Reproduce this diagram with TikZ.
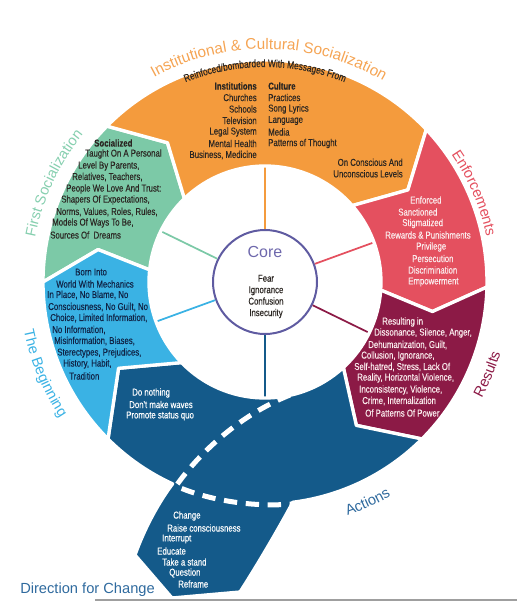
\documentclass[tikz,border=0pt]{standalone}
\usepackage{fontspec}
\setmainfont{Liberation Sans}
\newfontfamily\condfont[FakeStretch=0.78, FakeBold=0.25]{Liberation Sans}
\usepackage{tikz}
\usetikzlibrary{decorations.text}

\definecolor{instorange}{HTML}{F49B3D}
\definecolor{instlabel}{HTML}{F5A453}
\definecolor{firstgreen}{HTML}{7CC9A7}
\definecolor{firstlabel}{HTML}{86CFAF}
\definecolor{beginblue}{HTML}{3AB2E4}
\definecolor{enfred}{HTML}{E4505F}
\definecolor{resmaroon}{HTML}{8C1A46}
\definecolor{actblue}{HTML}{145A8A}
\definecolor{actlabel}{HTML}{2F6A9E}
\definecolor{corepurple}{HTML}{5F5BA1}
\definecolor{corelabel}{HTML}{6E68AC}
\definecolor{darktext}{HTML}{2B2622}
\definecolor{navytext}{HTML}{102446}
\definecolor{paletext}{HTML}{FBEDEE}

\begin{document}
\begin{tikzpicture}[
    x=0.75pt, y=0.75pt,
    body/.style={font=\condfont\fontsize{7.5}{8.6}\selectfont, inner sep=0pt},
    seg/.style={draw=white, line width=2.5pt, line join=round},
    link/.style={line width=1.3pt},
    bigtxt/.style={font=\fontsize{11}{13}\selectfont}
]
\useasboundingbox (0,0) rectangle (517,-604);

\begin{scope}[shift={(265,-282)}]
% core and the links to the ring
\node[circle, draw=corepurple, line width=1.5pt, minimum size=78pt, inner sep=0pt] (core) at (0,0) {};
\coordinate (in-inst) at (90:118);
\coordinate (in-enf) at (20:118);
\coordinate (in-res) at (-26:118);
\coordinate (in-act) at (-90:118);
\coordinate (in-beg) at (200:118);
\coordinate (in-first) at (154:118);
\draw[link, instorange] (core.90) -- (in-inst);
\draw[link, enfred] (core.20) -- (in-enf);
\draw[link, resmaroon] (core.-26) -- (in-res);
\draw[link, actblue] (core.-90) -- (in-act);
\draw[link, beginblue] (core.200) -- (in-beg);
\draw[link, firstgreen] (core.154) -- (in-first);

% ring segments
\path[fill=firstgreen, seg] (180:222) arc[start angle=180, end angle=135.4, radius=222]
  -- (125:170) -- (134:116) arc[start angle=134, end angle=174, radius=116] -- (169:170) -- cycle;
\path[fill=instorange, seg] (135.4:222) arc[start angle=135.4, end angle=43.4, radius=222]
  -- (32.8:170) -- (41.2:116) arc[start angle=41.2, end angle=134, radius=116] -- (125:170) -- cycle;
\path[fill=enfred, seg] (43.4:222) arc[start angle=43.4, end angle=-1.3, radius=222]
  -- (-10:170) -- (-4:116) arc[start angle=-4, end angle=41.2, radius=116] -- (32.8:170) -- cycle;
\path[fill=resmaroon, seg] (-1.3:222) arc[start angle=-1.3, end angle=-45, radius=222]
  -- (-57.5:170) -- (-47.5:116) arc[start angle=-47.5, end angle=-4, radius=116] -- (-10:170) -- cycle;
\path[fill=actblue, seg] (-45:222) arc[start angle=-45, end angle=-82.8, radius=222]
  .. controls (12,-250) and (-12,-290) .. (-25,-310) -- (-93,-316) -- (-130,-273)
  .. controls (-120,-245) and (-106,-220) .. (-114.6:222)
  arc[start angle=-114.6, end angle=-135, radius=222]
  -- (-149.5:170) -- (-136:116) arc[start angle=-136, end angle=-47.5, radius=116] -- (-57.5:170) -- cycle;
\path[fill=beginblue, seg] (225:222) arc[start angle=225, end angle=180, radius=222]
  -- (169:170) -- (174:116) arc[start angle=174, end angle=224, radius=116] -- (210.5:170) -- cycle;

% direction for change
\draw[white, line width=3.75pt, dash pattern=on 10pt off 6.5pt]
  (25,-113) .. controls (-25,-133) and (-65,-170) .. (-89,-204)
  .. controls (-65,-215) and (-20,-226) .. (27,-222);

% labels round the ring
\path[decorate, decoration={text along path, text align=center, text color=instlabel,
  text={|\fontsize{11.5}{13}\selectfont|Institutional {\&} Cultural Socialization}}]
  (130:233) arc[start angle=130, end angle=48, radius=233];
\path[decorate, decoration={text along path, text align=center, text color=darktext,
  text={|\condfont\fontsize{8}{9}\selectfont|Reinfoced/bombarded With Messages From}}]
  (118:215) arc[start angle=118, end angle=62, radius=215];
\path[decorate, decoration={text along path, text align=center, text color=enfred,
  text={|\fontsize{11}{13}\selectfont|Enforcements}}]
  (41:226) arc[start angle=41, end angle=5, radius=226];
\path[decorate, decoration={text along path, text align=center, text color=resmaroon,
  text={|\fontsize{11}{13}\selectfont|Results}}]
  (-40:246) arc[start angle=-40, end angle=-5, radius=246];
\path[decorate, decoration={text along path, text align=center, text color=actlabel,
  text={|\fontsize{11}{13}\selectfont|Actions}}]
  (-85:248) arc[start angle=-85, end angle=-45, radius=248];
\path[decorate, decoration={text along path, text align=center, text color=beginblue,
  text={|\fontsize{11}{13}\selectfont|The Beginning}}]
  (180:246) arc[start angle=180, end angle=225, radius=246];
\path[decorate, decoration={text along path, text align=center, text color=firstlabel,
  text={|\fontsize{11}{13}\selectfont|First Socialization}}]
  (175:234) arc[start angle=175, end angle=135, radius=234];

% core text
\node[font=\fontsize{12}{14}\selectfont, text=corelabel] (corelbl) at (0,30) {Core};
\node[body, align=center, text=darktext] (coreitems) at (1,-14.5) {Fear\\Ignorance\\Confusion\\Insecurity};
\end{scope}

% institutional & cultural
\foreach \txt [count=\i] in {{\bfseries Institutions}, Churches, Schools, Television, Legal System, Mental Health, {Business, Medicine}}
  \node[body, text=darktext, anchor=east] (inst\i) at (257,{-86-11.5*(\i-1)}) {\txt};
\foreach \txt [count=\i] in {{\bfseries Culture}, Practices, Song Lyrics, Language, Media, Patterns of Thought}
  \node[body, text=darktext, anchor=west] (cult\i) at (268,{-86-11.5*(\i-1)}) {\txt};
\node[body, text=darktext, align=right, anchor=east] (levels) at (403,-168) {On Conscious And\\Unconscious Levels};

% first socialization
\foreach \x/\y/\txt [count=\i] in {94/143/{\bfseries Socialized}, 85/154/{Taught On A Personal}, 78/166/{Level By Parents,},
    72/177/{Relatives, Teachers,}, 66/189/{People We Love And Trust:}, 61/200/{Shapers Of Expectations,},
    56/212/{Norms, Values, Roles, Rules,}, 52/223/{Models Of Ways To Be,}, 50/235/{Sources Of~~Dreams}}
  \node[body, text=darktext, anchor=west] (soc\i) at (\x,-\y) {\txt};

% the beginning
\foreach \x/\y/\txt [count=\i] in {75/272/{Born Into}, 56/284/{World With Mechanics}, 47/295/{In Place, No Blame, No},
    48/307/{Consciousness, No Guilt, No}, 50/318/{Choice, Limited Information,}, 52/330/{No Information,},
    54/341/{Misinformation, Biases,}, 57/353/{Sterectypes, Prejudices,}, 63/364/{History, Habit,}, 69/376/{Tradition}}
  \node[body, text=navytext, anchor=west] (beg\i) at (\x,-\y) {\txt};

% enforcements
\foreach \x/\y/\txt [count=\i] in {410/200/{Enforced}, 398/212/{Sanctioned}, 402/223.5/{Stigmatized},
    385/235/{Rewards \& Punishments}, 416/247/{Privilege}, 412/258.5/{Persecution}, 408/270/{Discrimination}, 408/282/{Empowerment}}
  \node[body, text=paletext, anchor=west] (enf\i) at (\x,-\y) {\txt};

% results
\foreach \x/\y/\txt [count=\i] in {382/322/{Resulting in}, 374/333/{Dissonance, Silence, Anger,}, 368/345/{Dehumanization, Guilt,},
    361/356/{Collusion, Ignorance,}, 354/367/{Self-hatred, Stress, Lack Of}, 357/378/{Reality, Horizontal Violence,},
    359/390/{Inconsistency, Violence,}, 362/401/{Crime, Internalization}, 365/413/{Of Patterns Of Power}}
  \node[body, text=paletext, anchor=west] (res\i) at (\x,-\y) {\txt};

% actions
\foreach \x/\y/\txt [count=\i] in {132/393/{Do nothing}, 129/404.5/{Don't make waves}, 126/416/{Promote status quo}}
  \node[body, text=white, anchor=west] (act\i) at (\x,-\y) {\txt};
\foreach \x/\y/\txt [count=\i] in {173/516/{Change}, 167/528/{Raise consciousness}, 162/539/{Interrupt}, 157/551/{Educate},
    162/562/{Take a stand}, 169/573/{Question}, 178/584/{Reframe}}
  \node[body, text=white, anchor=west] (chg\i) at (\x,-\y) {\txt};

\node[bigtxt, text=actlabel, anchor=west, inner sep=0pt] (dirchange) at (20,-590) {Direction for Change};
\coordinate (rule-l) at (95,-600);
\coordinate (rule-r) at (517,-600);
\draw[gray!75, line width=1.1pt] (rule-l) -- (rule-r);
\end{tikzpicture}
\end{document}
